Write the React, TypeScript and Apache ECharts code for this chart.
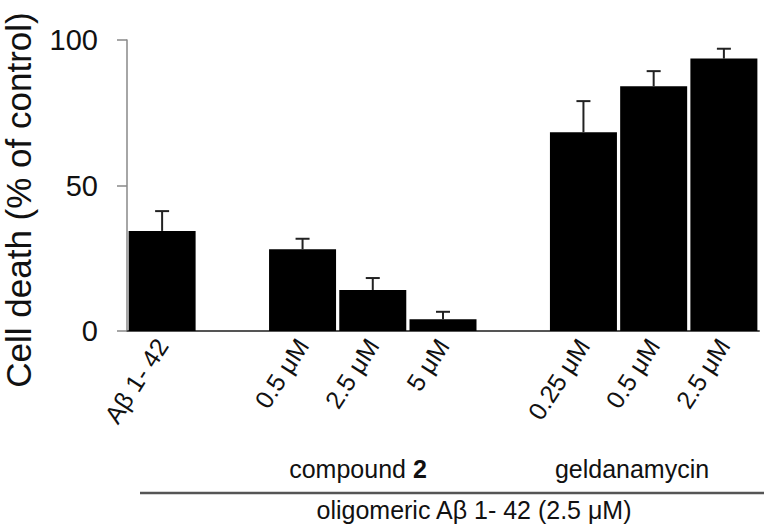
import React, { useEffect, useRef } from "react";
import * as echarts from "echarts";

const categories = ["Aβ 1- 42", "", "0.5 μM", "2.5 μM", "5 μM", "", "0.25 μM", "0.5 μM", "2.5 μM"];
const means: (number | null)[] = [34.4, null, 28.1, 14.1, 4.0, null, 68.3, 84.1, 93.6];
const errors: (number | null)[] = [6.8, null, 3.6, 4.1, 2.6, null, 10.7, 5.2, 3.4];
const yTicks = [0, 50, 100];
const yTitle = "Cell death (% of control)";
const groupLabels = ["compound", "geldanamycin"];
const conditionLabel = "oligomeric Aβ 1- 42 (2.5 μM)";

const FONT = "'Liberation Sans', Arial, sans-serif";

export default function App() {
  const ref = useRef<HTMLDivElement>(null);
  useEffect(() => {
    if (!ref.current) return;
    document.body.style.margin = "0";
    const chart = echarts.init(ref.current, null, { renderer: "svg" });
    const errData = means
      .map((m, i) => (m == null || errors[i] == null ? null : [i, m, m + (errors[i] as number)]))
      .filter((d) => d != null);
    chart.setOption({
      animation: false,
      backgroundColor: "#ffffff",
      grid: { left: 127, right: 5, top: 40, bottom: 200, containLabel: false, outerBoundsMode: "none" },
      xAxis: {
        type: "category",
        data: categories,
        axisLine: { show: true, lineStyle: { color: "#555", width: 2 } },
        axisTick: { show: false },
        axisLabel: {
          rotate: 57,
          margin: 10,
          interval: 0,
          fontSize: 25,
          fontFamily: FONT,
          color: "#111",
        },
      },
      yAxis: {
        type: "value",
        min: yTicks[0],
        max: yTicks[yTicks.length - 1],
        interval: 50,
        splitLine: { show: false },
        axisLine: { show: true, lineStyle: { color: "#888", width: 1.5 } },
        axisTick: { show: true, inside: false, length: 10, lineStyle: { color: "#888", width: 1.5 } },
        axisLabel: { fontSize: 29, fontFamily: FONT, color: "#111", margin: 29 },
      },
      series: [
        {
          type: "bar",
          data: means,
          barWidth: 67,
          itemStyle: { color: "#000" },
          z: 2,
        },
        {
          type: "custom",
          z: 3,
          data: errData,
          renderItem: (params: any, api: any) => {
            const x = api.value(0);
            const lo = api.coord([x, api.value(1)]);
            const hi = api.coord([x, api.value(2)]);
            const style = { stroke: "#222", lineWidth: 2 };
            return {
              type: "group",
              children: [
                { type: "line", shape: { x1: lo[0], y1: lo[1], x2: hi[0], y2: hi[1] }, style },
                { type: "line", shape: { x1: hi[0] - 7, y1: hi[1], x2: hi[0] + 7, y2: hi[1] }, style },
              ],
            };
          },
        },
      ],
      graphic: [
        {
          type: "text",
          x: 18,
          y: 200,
          rotation: Math.PI / 2,
          style: {
            text: yTitle,
            align: "center",
            verticalAlign: "middle",
            fontSize: 35,
            fontFamily: FONT,
            fill: "#111",
          },
        },
        {
          type: "text",
          x: 358,
          y: 469,
          style: {
            text: "{n|" + groupLabels[0] + " }{b|2}",
            align: "center",
            verticalAlign: "middle",
            rich: {
              n: { fontSize: 25, fontFamily: FONT, fill: "#111" },
              b: { fontSize: 25, fontFamily: FONT, fontWeight: "bold", fill: "#111" },
            },
          },
        },
        {
          type: "text",
          x: 632,
          y: 469,
          style: {
            text: groupLabels[1],
            align: "center",
            verticalAlign: "middle",
            fontSize: 25,
            fontFamily: FONT,
            fill: "#111",
          },
        },
        {
          type: "line",
          shape: { x1: 140, y1: 493, x2: 764, y2: 493 },
          style: { stroke: "#555", lineWidth: 2.5 },
        },
        {
          type: "text",
          x: 474,
          y: 510,
          style: {
            text: conditionLabel,
            align: "center",
            verticalAlign: "middle",
            fontSize: 25,
            fontFamily: FONT,
            fill: "#111",
          },
        },
      ],
    });
    return () => chart.dispose();
  }, []);
  return <div ref={ref} style={{ width: 764, height: 531 }} />;
}
